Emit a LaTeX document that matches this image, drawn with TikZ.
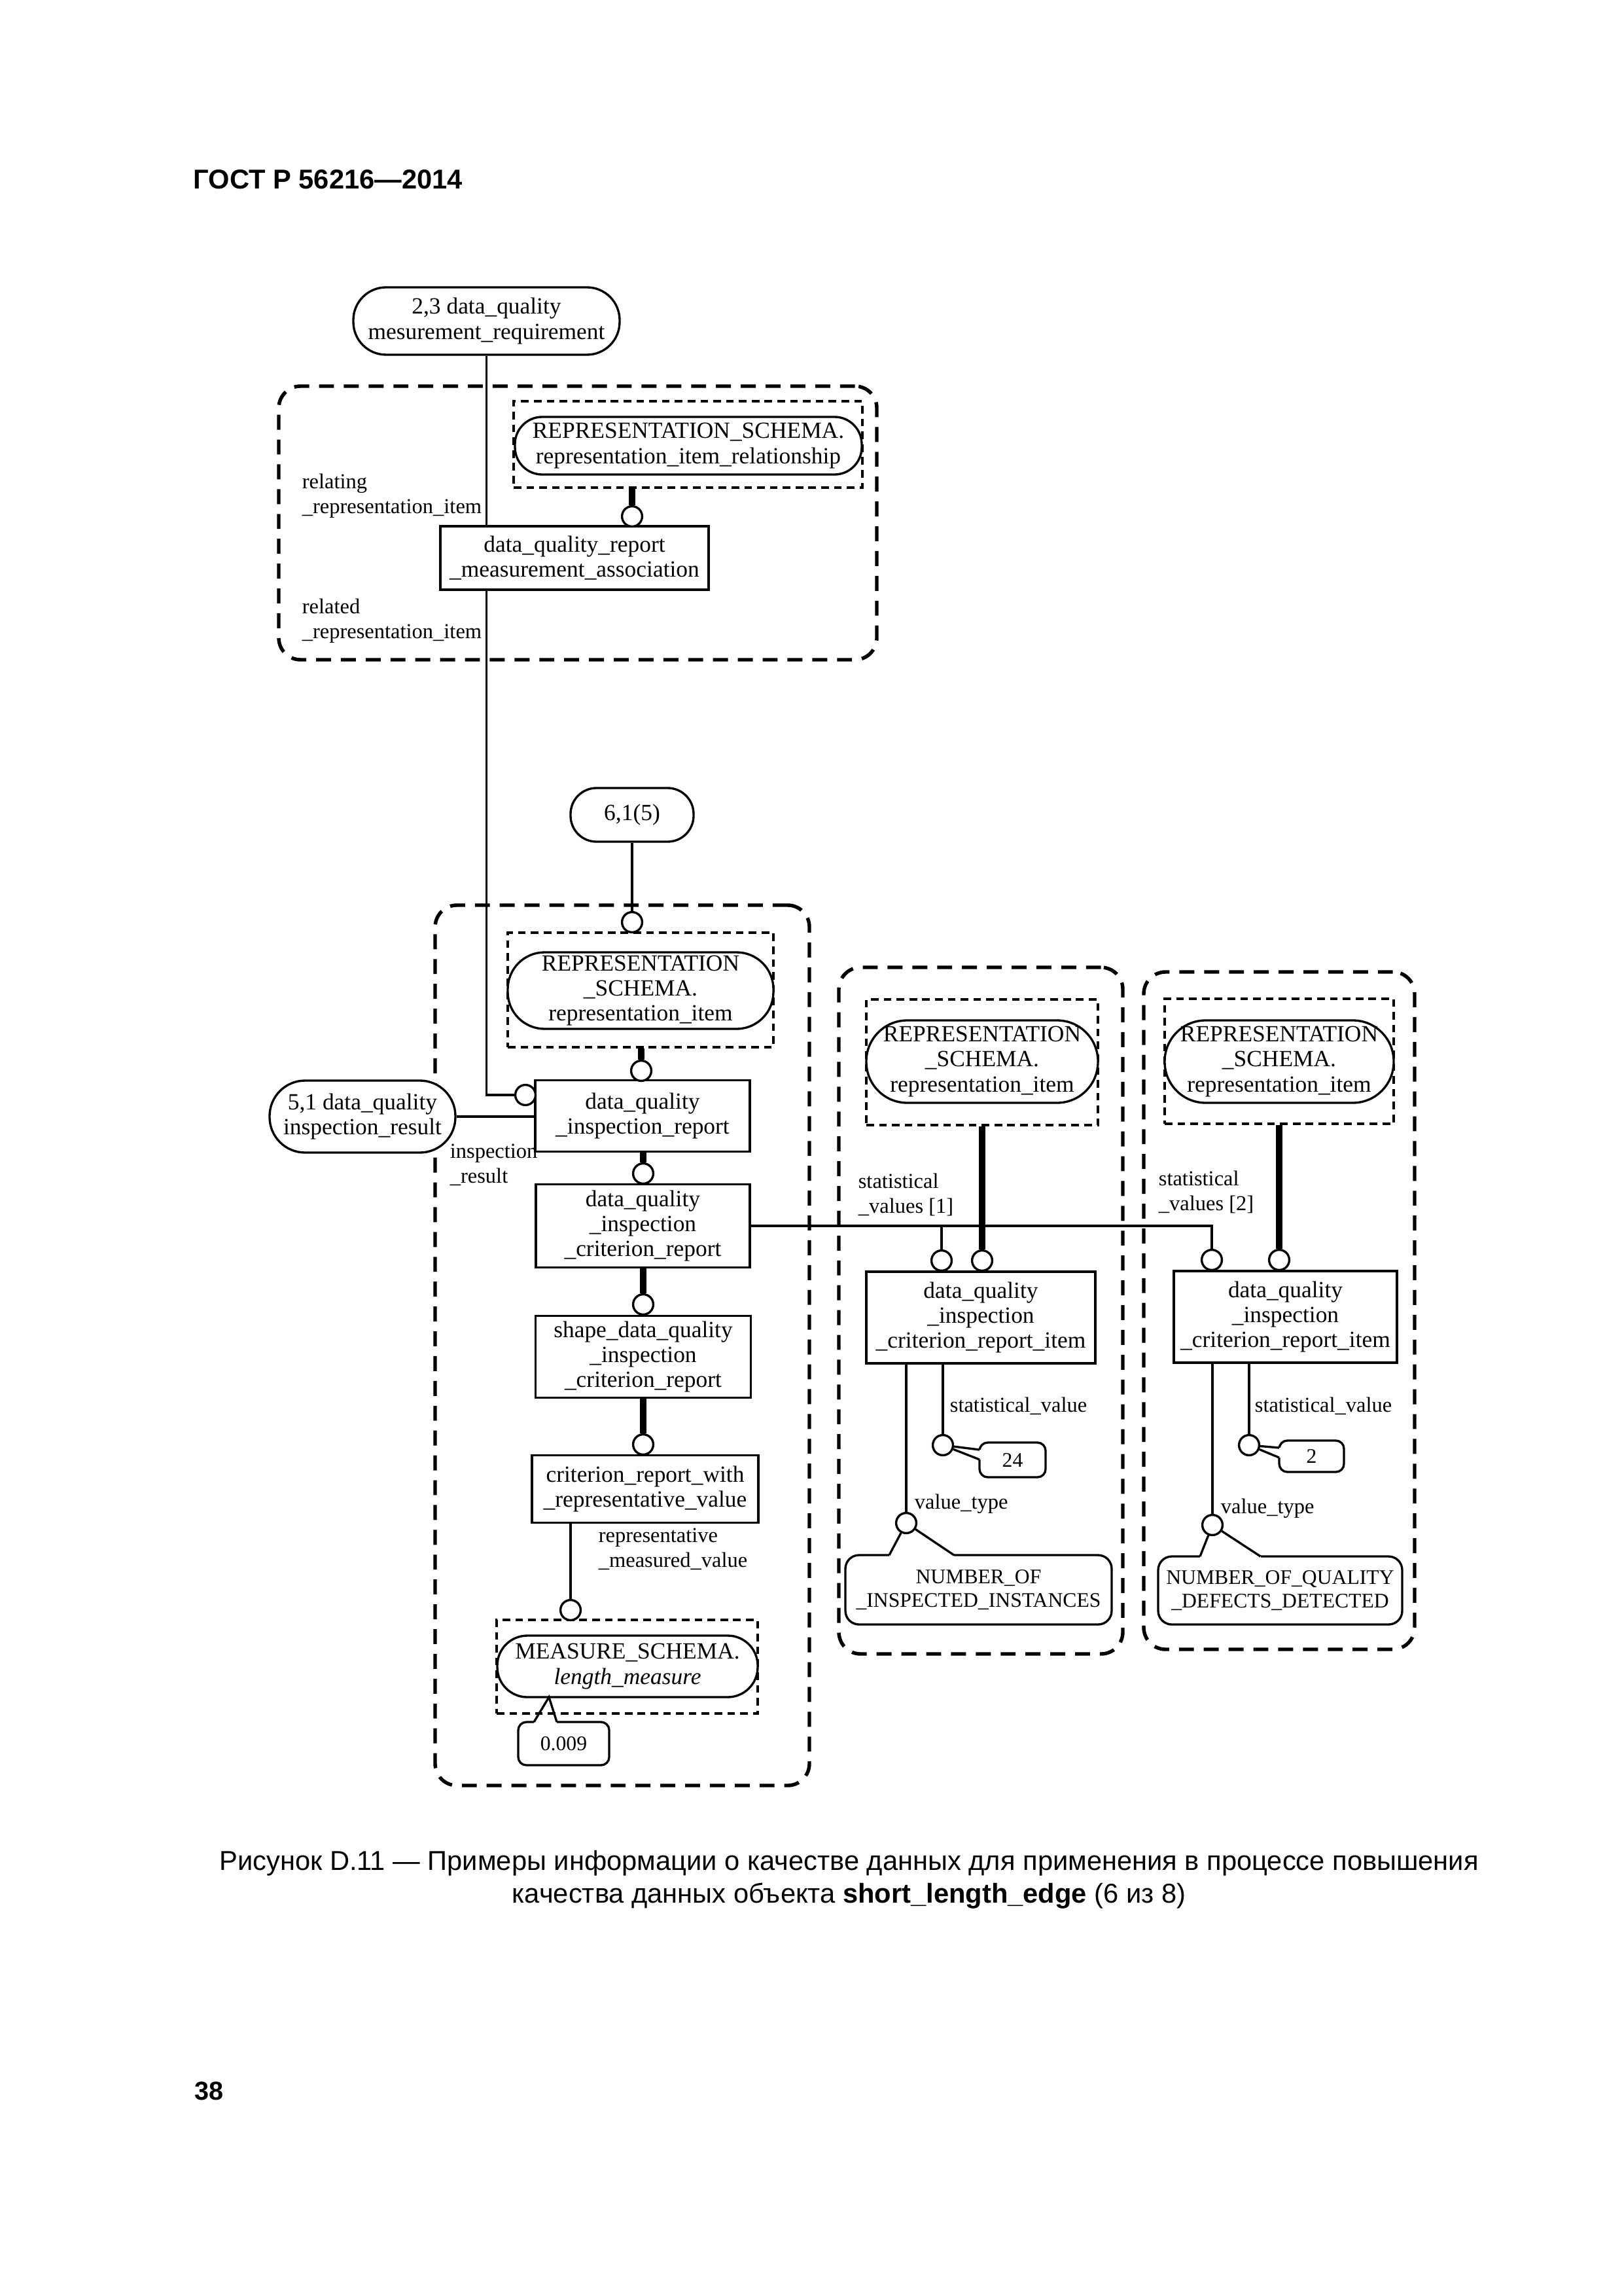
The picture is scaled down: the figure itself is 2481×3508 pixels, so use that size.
\documentclass[tikz,border=0pt]{standalone}
\usepackage{fontspec}
\setmainfont{Liberation Serif}
\newfontfamily\arialf{Liberation Sans}
\newcommand{\pxu}{0.24pt}
\newcommand{\dfont}{\fontsize{8.5}{9.2}\selectfont}
\newcommand{\lfont}{\fontsize{7.8}{9.1}\selectfont}
\newcommand{\cfont}{\fontsize{7.6}{8.6}\selectfont}
\begin{document}
\begin{tikzpicture}[x=0.24pt, y=-0.24pt,
  ent/.style={draw, fill=white, line width=0.8pt, font=\dfont, align=center, inner sep=0pt},
  grp/.style={draw, line width=1.3pt, dash pattern=on 5.5pt off 3.6pt, rounded corners=8pt, inner sep=0pt},
  sub/.style={draw, line width=0.8pt, dash pattern=on 2.8pt off 1.9pt, inner sep=0pt},
  ring/.style={circle, draw, fill=white, line width=0.8pt, minimum size=7.4pt, inner sep=0pt},
  thk/.style={line width=2.3pt},
  thn/.style={line width=0.8pt},
  lbl/.style={font=\lfont, inner sep=0pt, align=left},
  gap/.style={draw=white, line width=1.8pt},
]
\useasboundingbox (0,0) rectangle (2481,3508);

% header, caption, page number
\node[anchor=base west, inner sep=0pt, font=\arialf\bfseries\fontsize{10}{12}\selectfont] (hdr) at (295,289) {ГОСТ Р 56216—2014};
\node[align=center, inner sep=0pt, font=\arialf\fontsize{10}{12}\selectfont] (cap) at (1297.5,2872)
  {Рисунок D.11 — Примеры информации о качестве данных для применения в процессе повышения\\
   качества данных объекта \textbf{short\_length\_edge} (6 из 8)};
\node[anchor=base west, inner sep=0pt, font=\arialf\bfseries\fontsize{9.5}{12}\selectfont] (pg) at (297,3208) {38};

% dashed groups
\node[grp, minimum width=914*\pxu, minimum height=418*\pxu] (g1) at (883,799) {};
\node[sub, minimum width=533*\pxu, minimum height=132*\pxu] (s1) at (1051.5,679) {};
\node[grp, minimum width=572*\pxu, minimum height=1345*\pxu] (g2) at (951,2055.5) {};
\node[sub, minimum width=406*\pxu, minimum height=175*\pxu] (s2) at (979,1512.5) {};
\node[sub, minimum width=399*\pxu, minimum height=143*\pxu] (s3) at (958.5,2546.5) {};
\node[grp, minimum width=434*\pxu, minimum height=1049*\pxu] (g3) at (1499,2002.5) {};
\node[sub, minimum width=354*\pxu, minimum height=192*\pxu] (s4) at (1501,1623) {};
\node[grp, minimum width=414*\pxu, minimum height=1035*\pxu] (g4) at (1955,2002.5) {};
\node[sub, minimum width=350*\pxu, minimum height=191*\pxu] (s5) at (1955,1621.5) {};

% stadium nodes
\node[ent, rounded corners=12pt, minimum width=407*\pxu, minimum height=103*\pxu] (reqA) at (743.5,490.5) {2,3 data\_quality\\mesurement\_requirement};
\node[ent, rounded corners=10pt, minimum width=530*\pxu, minimum height=88*\pxu] (rir) at (1052,681) {REPRESENTATION\_SCHEMA.\\representation\_item\_relationship};
\node[ent, rounded corners=9.5pt, minimum width=188*\pxu, minimum height=82*\pxu] (n615) at (966,1245) {6,1(5)};
\node[ent, rounded corners=13.5pt, minimum width=406*\pxu, minimum height=117*\pxu] (ri1) at (979,1513.5) {REPRESENTATION\\\_SCHEMA.\\representation\_item};
\node[ent, rounded corners=13pt, minimum width=284*\pxu, minimum height=110*\pxu] (dqres) at (554,1706) {5,1 data\_quality\\inspection\_result};
\node[ent, rounded corners=11pt, minimum width=398*\pxu, minimum height=94*\pxu] (ms) at (959,2546) {MEASURE\_SCHEMA.\\\textit{length\_measure}};
\node[ent, rounded corners=15pt, minimum width=354*\pxu, minimum height=126*\pxu] (ri3) at (1501,1622) {REPRESENTATION\\\_SCHEMA.\\representation\_item};
\node[ent, rounded corners=15pt, minimum width=350*\pxu, minimum height=126*\pxu] (ri4) at (1955,1622) {REPRESENTATION\\\_SCHEMA.\\representation\_item};

% entity boxes
\node[ent, minimum width=410*\pxu, minimum height=97*\pxu] (dqrma) at (878,852.5) {data\_quality\_report\\\_measurement\_association};
\node[ent, minimum width=328*\pxu, minimum height=108.5*\pxu] (dqir) at (982,1705) {data\_quality\\\_inspection\_report};
\node[ent, minimum width=327*\pxu, minimum height=126.5*\pxu] (dqicr) at (982.5,1873) {data\_quality\\\_inspection\\\_criterion\_report};
\node[ent, minimum width=328.5*\pxu, minimum height=125*\pxu] (sdq) at (983,2073) {shape\_data\_quality\\\_inspection\\\_criterion\_report};
\node[ent, minimum width=346*\pxu, minimum height=102.5*\pxu] (crwrv) at (986,2275) {criterion\_report\_with\\\_representative\_value};
\node[ent, minimum width=350*\pxu, minimum height=140*\pxu] (item1) at (1499,2013) {data\_quality\\\_inspection\\\_criterion\_report\_item};
\node[ent, minimum width=341*\pxu, minimum height=140*\pxu] (item2) at (1964.5,2012) {data\_quality\\\_inspection\\\_criterion\_report\_item};

% callouts
\node[ent, font=\cfont, rounded corners=3pt, minimum width=139*\pxu, minimum height=66*\pxu] (c009) at (861.5,2664) {0.009};
\node[ent, font=\cfont, rounded corners=3pt, minimum width=101*\pxu, minimum height=53*\pxu] (c24) at (1547.5,2230.5) {24};
\node[ent, font=\cfont, rounded corners=3pt, minimum width=99*\pxu, minimum height=48*\pxu] (c2) at (2004.5,2225) {2};
\node[ent, font=\cfont, rounded corners=5pt, minimum width=407*\pxu, minimum height=106*\pxu] (cNI) at (1495.5,2429) {NUMBER\_OF\\\_INSPECTED\_INSTANCES};
\node[ent, font=\cfont, rounded corners=5pt, minimum width=373*\pxu, minimum height=104*\pxu] (cNQ) at (1956.5,2430) {NUMBER\_OF\_QUALITY\\\_DEFECTS\_DETECTED};

\coordinate (t009) at (839,2593);
\coordinate (p009a) at (816,2631);  \coordinate (p009b) at (851,2631);
\coordinate (p24a) at (1497,2215);  \coordinate (p24b) at (1497,2230);
\coordinate (p2a) at (1955,2212);   \coordinate (p2b) at (1955,2227);
\coordinate (pNIa) at (1359,2376);  \coordinate (pNIb) at (1458,2376);
\coordinate (pNQa) at (1834,2378);  \coordinate (pNQb) at (1926.5,2378);

\draw[gap] (p009a) -- (p009b);
\draw[gap] (p24a) -- (p24b);
\draw[gap] (p2a) -- (p2b);
\draw[gap] (pNIa) -- (pNIb);
\draw[gap] (pNQa) -- (pNQb);
\draw[thn] (p009a) -- (t009) -- (p009b);

% rings
\node[ring] (r1) at (966,789) {};
\node[ring] (r2) at (966,1409) {};
\node[ring] (r3) at (980,1636) {};
\node[ring] (rL) at (803,1673) {};
\node[ring] (r4) at (983,1793) {};
\node[ring] (r5) at (983,1993) {};
\node[ring] (r6) at (983,2207) {};
\node[ring] (r7) at (872,2460) {};
\node[ring] (r8) at (1439,1926) {};
\node[ring] (r9) at (1501,1926) {};
\node[ring] (r10) at (1441,2208) {};
\node[ring] (r11) at (1385,2327) {};
\node[ring] (r12) at (1852,1925) {};
\node[ring] (r13) at (1955,1925) {};
\node[ring] (r14) at (1909,2208) {};
\node[ring] (r15) at (1853,2330) {};

% callout pointers to rings
\draw[thn] (p24a) -- (r10);  \draw[thn] (p24b) -- (r10);
\draw[thn] (p2a) -- (r14);   \draw[thn] (p2b) -- (r14);
\draw[thn] (pNIa) -- (r11);  \draw[thn] (pNIb) -- (r11);
\draw[thn] (pNQa) -- (r15);  \draw[thn] (pNQb) -- (r15);

% connectors
\draw[thn] (reqA.south) -- (reqA.south |- dqrma.north);
\draw[thn] (reqA.south |- dqrma.south) -- (reqA.south |- rL) -- (rL.west);
\draw[thk] (r1 |- s1.south) -- (r1.north);
\draw[thn] (n615.south) -- (r2.north);
\draw[thk] (r3 |- s2.south) -- (r3.north);
\draw[thn] (dqres.east) -- (dqres.east -| dqir.west);
\draw[thk] (r4 |- dqir.south) -- (r4.north);
\draw[thk] (r5 |- dqicr.south) -- (r5.north);
\draw[thk] (r6 |- sdq.south) -- (r6.north);
\draw[thn] (r7 |- crwrv.south) -- (r7.north);
\draw[thn] (dqicr.east) -- (dqicr.east -| r12) -- (r12.north);
\draw[thn] (dqicr.east -| r8) -- (r8.north);
\draw[thk] (r9 |- s4.south) -- (r9.north);
\draw[thk] (r13 |- s5.south) -- (r13.north);
\draw[thn] (r10 |- item1.south) -- (r10.north);
\draw[thn] (r11 |- item1.south) -- (r11.north);
\draw[thn] (r14 |- item2.south) -- (r14.north);
\draw[thn] (r15 |- item2.south) -- (r15.north);

% labels
\node[lbl, anchor=west] (lrel1) at (461,758) {relating\\\_representation\_item};
\node[lbl, anchor=west] (lrel2) at (461,948.5) {related\\\_representation\_item};
\node[lbl, anchor=west] (linsp) at (687,1779.5) {inspection\\\_result};
\node[lbl, anchor=west] (lrep) at (914,2367) {representative\\\_measured\_value};
\node[lbl, anchor=west] (lsv1) at (1311,1825) {statistical\\\_values [1]};
\node[lbl, anchor=west] (lsv2) at (1770,1821.5) {statistical\\\_values [2]};
\node[lbl, anchor=base west] (lst1) at (1451,2157) {statistical\_value};
\node[lbl, anchor=base west] (lst2) at (1917,2157) {statistical\_value};
\node[lbl, anchor=base west] (lvt1) at (1397,2305) {value\_type};
\node[lbl, anchor=base west] (lvt2) at (1865,2312) {value\_type};
\end{tikzpicture}
\end{document}
